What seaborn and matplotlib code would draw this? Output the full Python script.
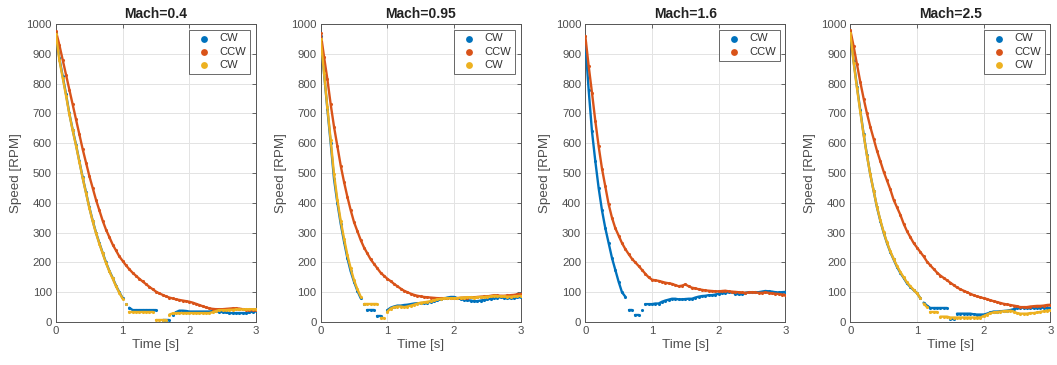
import numpy as np
import pandas as pd
import matplotlib
matplotlib.use("Agg")
import matplotlib.pyplot as plt
import seaborn as sns

# time grid (s), 0.05 s step
TIME = np.round(np.arange(0, 3.0001, 0.05), 2)
nan = np.nan

TITLES = ["Mach=0.4", "Mach=0.95", "Mach=1.6", "Mach=2.5"]
LABELS = [["CW", "CCW", "CW"], ["CW", "CCW", "CW"], ["CW", "CCW"], ["CW", "CCW", "CW"]]

# ---- Mach 0.4 ----
m04_cw1 = [970, 885, 825, 765, 700, 645, 595, 540, 485, 435, 385, 340, 300, 265, 232, 200, 172, 148, 122, 100,
           80, 62, 48, 40, 40, 40, 40, 40, 40, 40, 40, nan, 8, 8, 8, 25, 33, 38, 38, 37,
           35, 35, 35, 35, 35, 35, 35, 37, 36, 35, 33, 32, 30, 30, 30, 30, 30, 30, 32, 35, 38]
m04_ccw = [975, 930, 880, 830, 780, 730, 680, 630, 580, 535, 490, 450, 410, 375, 340, 310, 285, 260, 240, 220,
           205, 190, 177, 165, 155, 145, 136, 127, 118, 110, 102, 96, 91, 86, 82, 79, 76, 74, 72, 70,
           68, 65, 61, 57, 53, 49, 46, 44, 43, 43, 43, 44, 45, 46, 46, 45, 43, 41, 40, 40, 40]
m04_cw2 = [965, 880, 820, 760, 698, 643, 592, 538, 483, 433, 383, 338, 298, 263, 230, 198, 170, 146, 120, 98,
           78, 60, 35, 35, 35, 35, 35, 35, 35, 35, 8, 8, 8, 8, 25, 29, 30, 30, 30, 30,
           30, 30, 30, 30, 30, 30, 30, 33, 37, 40, 40, 40, 41, 41, 42, 42, 42, 42, 43, 43, 43]

# ---- Mach 0.95 ----
m095_cw1 = [960, 835, 715, 600, 480, 400, 330, 270, 215, 170, 135, 105, 80, 60, 40, 40, 40, 20, 20, nan,
            40, 48, 52, 55, 55, 57, 58, 60, 62, 63, 63, 64, 65, 68, 70, 73, 76, 79, 82, 84,
            84, 80, 77, 75, 73, 72, 70, 70, 72, 74, 76, 78, 80, 82, 83, 82, 80, 80, 81, 83, 83]
m095_ccw = [970, 890, 815, 730, 655, 590, 525, 470, 420, 375, 335, 305, 275, 250, 230, 210, 195, 180, 165, 155,
            145, 137, 128, 120, 112, 105, 100, 95, 91, 88, 86, 84, 83, 82, 81, 80, 80, 80, 80, 80,
            80, 80, 81, 82, 82, 83, 83, 84, 85, 86, 86, 88, 90, 89, 88, 88, 89, 90, 91, 93, 93]
m095_cw2 = [950, 835, 720, 610, 495, 410, 340, 280, 225, 180, 140, 110, 85, 60, 60, 60, 60, 60, 12, 12,
            35, 45, 50, 52, 52, 50, 52, 55, 58, 62, 65, 66, 68, 70, 73, 76, 78, 79, 80, 80,
            80, 80, 82, 82, 83, 83, 82, 83, 84, 84, 85, 86, 88, 87, 86, 86, 85, 85, 86, 87, 88]

# ---- Mach 1.6 ----
m16_cw1 = [940, 780, 640, 540, 450, 375, 315, 265, 215, 175, 135, 100, 85, 40, 40, 25, 25, 40, 60, 60,
           60, 62, 62, 68, 72, 75, 78, 78, 76, 76, 77, 78, 78, 82, 85, 87, 88, 90, 90, 92,
           95, 97, 98, 100, 100, 95, 93, 95, 98, 100, 100, 100, 100, 102, 104, 103, 102, 100, 99, 100, 101]
m16_ccw = [960, 860, 770, 675, 590, 515, 455, 395, 350, 315, 290, 265, 245, 228, 212, 200, 188, 175, 162, 150,
           142, 140, 138, 135, 132, 130, 128, 124, 120, 122, 126, 120, 115, 113, 110, 108, 106, 105, 104, 103,
           103, 104, 105, 103, 102, 101, 100, 99, 98, 99, 100, 99, 98, 98, 99, 98, 96, 95, 94, 92, 92]

# ---- Mach 2.5 ----
m25_cw1 = [975, 875, 790, 710, 630, 560, 495, 440, 385, 340, 300, 265, 235, 210, 185, 165, 148, 130, 118, 107,
           97, 80, 65, 55, 47, 47, 47, 47, 47, 47, 10, 10, 28, 28, 28, 28, 28, 26, 25, 25,
           25, 28, 32, 35, 35, 36, 37, 38, 40, 43, 47, 48, 48, 48, 47, 47, 48, 48, 48, 48, 47]
m25_ccw = [980, 925, 865, 805, 750, 700, 655, 615, 575, 540, 505, 475, 445, 410, 385, 360, 330, 305, 285, 265,
           250, 235, 220, 203, 190, 178, 166, 156, 148, 140, 132, 124, 116, 110, 105, 100, 95, 90, 86, 83,
           80, 77, 73, 70, 67, 64, 61, 59, 57, 55, 53, 50, 50, 50, 52, 53, 54, 54, 55, 57, 58]
m25_cw2 = [970, 870, 785, 705, 628, 558, 495, 440, 387, 342, 302, 267, 237, 212, 188, 168, 150, 133, 120, 108,
           96, 80, 62, 50, 33, 33, 33, 18, 18, 18, 15, 15, 15, 15, 15, 15, 15, 15, 15, 15,
           20, 25, 30, 32, 33, 35, 36, 37, 38, 35, 30, 28, 28, 28, 30, 30, 32, 34, 36, 38, 40]

SERIES = [[m04_cw1, m04_ccw, m04_cw2],
          [m095_cw1, m095_ccw, m095_cw2],
          [m16_cw1, m16_ccw],
          [m25_cw1, m25_ccw, m25_cw2]]

COLORS = ["#0072BD", "#D95319", "#EDB120"]


def segments(t, v):
    """Split a series into runs; break at NaN and at quantisation jumps at low speed."""
    segs, cur = [], []
    for k in range(len(v)):
        if np.isnan(v[k]):
            if cur:
                segs.append(cur)
            cur = []
            continue
        if cur:
            prev = v[cur[-1]]
            if abs(v[k] - prev) > 12 and min(v[k], prev) < 70:
                segs.append(cur)
                cur = []
        cur.append(k)
    if cur:
        segs.append(cur)
    return segs


sns.set_theme(style="white")
plt.rcParams['font.family'] = ['Liberation Sans', 'DejaVu Sans']

fig = plt.figure(figsize=(10.57, 3.65), dpi=100)
lefts = [56, 320.7, 585.3, 850.3]
W, H = 1057.0, 365.0
tick_col = "#4d4d4d"

for i in range(4):
    ax = fig.add_axes([lefts[i] / W, (365 - 322) / H, 200 / W, 298 / H])
    for j, ys in enumerate(SERIES[i]):
        ys = np.array(ys, dtype=float)
        df = pd.DataFrame({"t": TIME, "v": ys}).dropna()
        sns.scatterplot(data=df, x="t", y="v", ax=ax, color=COLORS[j], s=5,
                        linewidth=0, label=LABELS[i][j], zorder=3 + j)
        for seg in segments(TIME, ys):
            if len(seg) < 2:
                continue
            sns.lineplot(x=TIME[seg], y=ys[seg], ax=ax, color=COLORS[j], linewidth=1.7,
                         estimator=None, sort=False, legend=False, zorder=3 + j)
    ax.set_xlim(0, 3)
    ax.set_ylim(0, 1000)
    ax.set_xticks([0, 1, 2, 3])
    ax.set_yticks(np.arange(0, 1001, 100))
    ax.grid(True, color="#e3e3e3", linewidth=0.7)
    ax.set_axisbelow(True)
    for sp in ax.spines.values():
        sp.set_color("#555555")
        sp.set_linewidth(0.7)
    ax.tick_params(axis="both", direction="in", length=3, width=0.6, colors=tick_col,
                   labelsize=8.2, pad=3, top=True, right=True, labeltop=False, labelright=False)
    ax.set_xlabel("Time [s]", fontsize=9.6, color=tick_col, labelpad=2)
    ax.set_ylabel("Speed [RPM]", fontsize=9.6, color=tick_col, labelpad=3)
    ax.set_title(TITLES[i], fontsize=10, fontweight="bold", color="#222222", pad=4)
    leg = ax.legend(loc="upper right", fontsize=8, frameon=True, fancybox=False,
                    edgecolor="#444444", borderpad=0.35, handletextpad=0.4,
                    labelspacing=0.3, markerscale=2.2, borderaxespad=0.5)
    leg.get_frame().set_linewidth(0.7)
    for t in leg.get_texts():
        t.set_color("#333333")

fig.savefig("out.png", dpi=100)
